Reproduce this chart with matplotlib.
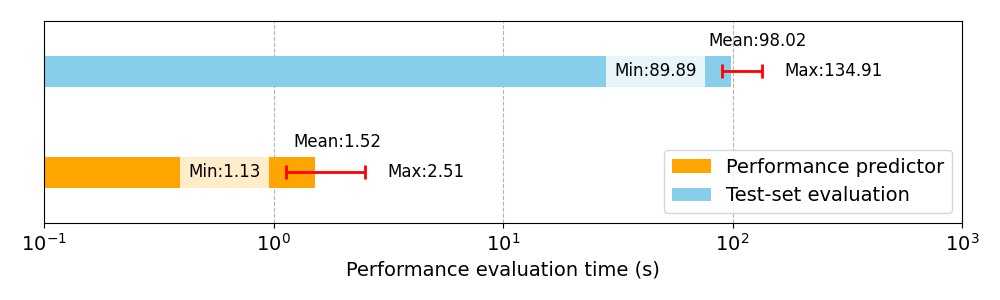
import matplotlib
matplotlib.use('Agg')
import matplotlib.pyplot as plt
import numpy as np

labels = ['Performance predictor', 'Test-set evaluation']
colors = ['orange', 'skyblue']
means = [1.52, 98.02]
mins = [1.13, 89.89]
maxs = [2.51, 134.91]

fig, ax = plt.subplots(figsize=(10, 3), dpi=100)
fig.subplots_adjust(left=0.044, right=0.962, top=0.93, bottom=0.257)

ypos = np.arange(len(labels))
for i in range(len(labels)):
	ax.barh(ypos[i], means[i], height=0.3, color=colors[i], label=labels[i], zorder=2)
	ax.errorbar(mins[i], ypos[i], xerr=[[0], [maxs[i] - mins[i]]], fmt='none',
				ecolor='red', lw=2, capsize=5, capthick=2, zorder=3)
	ax.text(mins[i] * 0.78, ypos[i], 'Min:%.2f' % mins[i], ha='right', va='center',
			fontsize=12, zorder=4,
			bbox=dict(facecolor='white', alpha=0.8, edgecolor='none', pad=6))
	ax.text(maxs[i] * 1.25, ypos[i], 'Max:%.2f' % maxs[i], ha='left', va='center', fontsize=12)
	ax.text(means[i] * 0.8, ypos[i] + 0.3, 'Mean:%.2f' % means[i], ha='left', va='center', fontsize=12)

ax.set_xscale('log')
ax.set_xlim(0.1, 1000)
ax.set_ylim(-0.5, 1.5)
ax.set_yticks([])
ax.minorticks_off()
ax.tick_params(axis='x', labelsize=14)
ax.set_xlabel('Performance evaluation time (s)', fontsize=14)
ax.grid(axis='x', linestyle='--', color='gray', alpha=0.6, zorder=0)
ax.set_axisbelow(True)
ax.legend(loc='lower right', fontsize=14)

plt.savefig('out.png')
